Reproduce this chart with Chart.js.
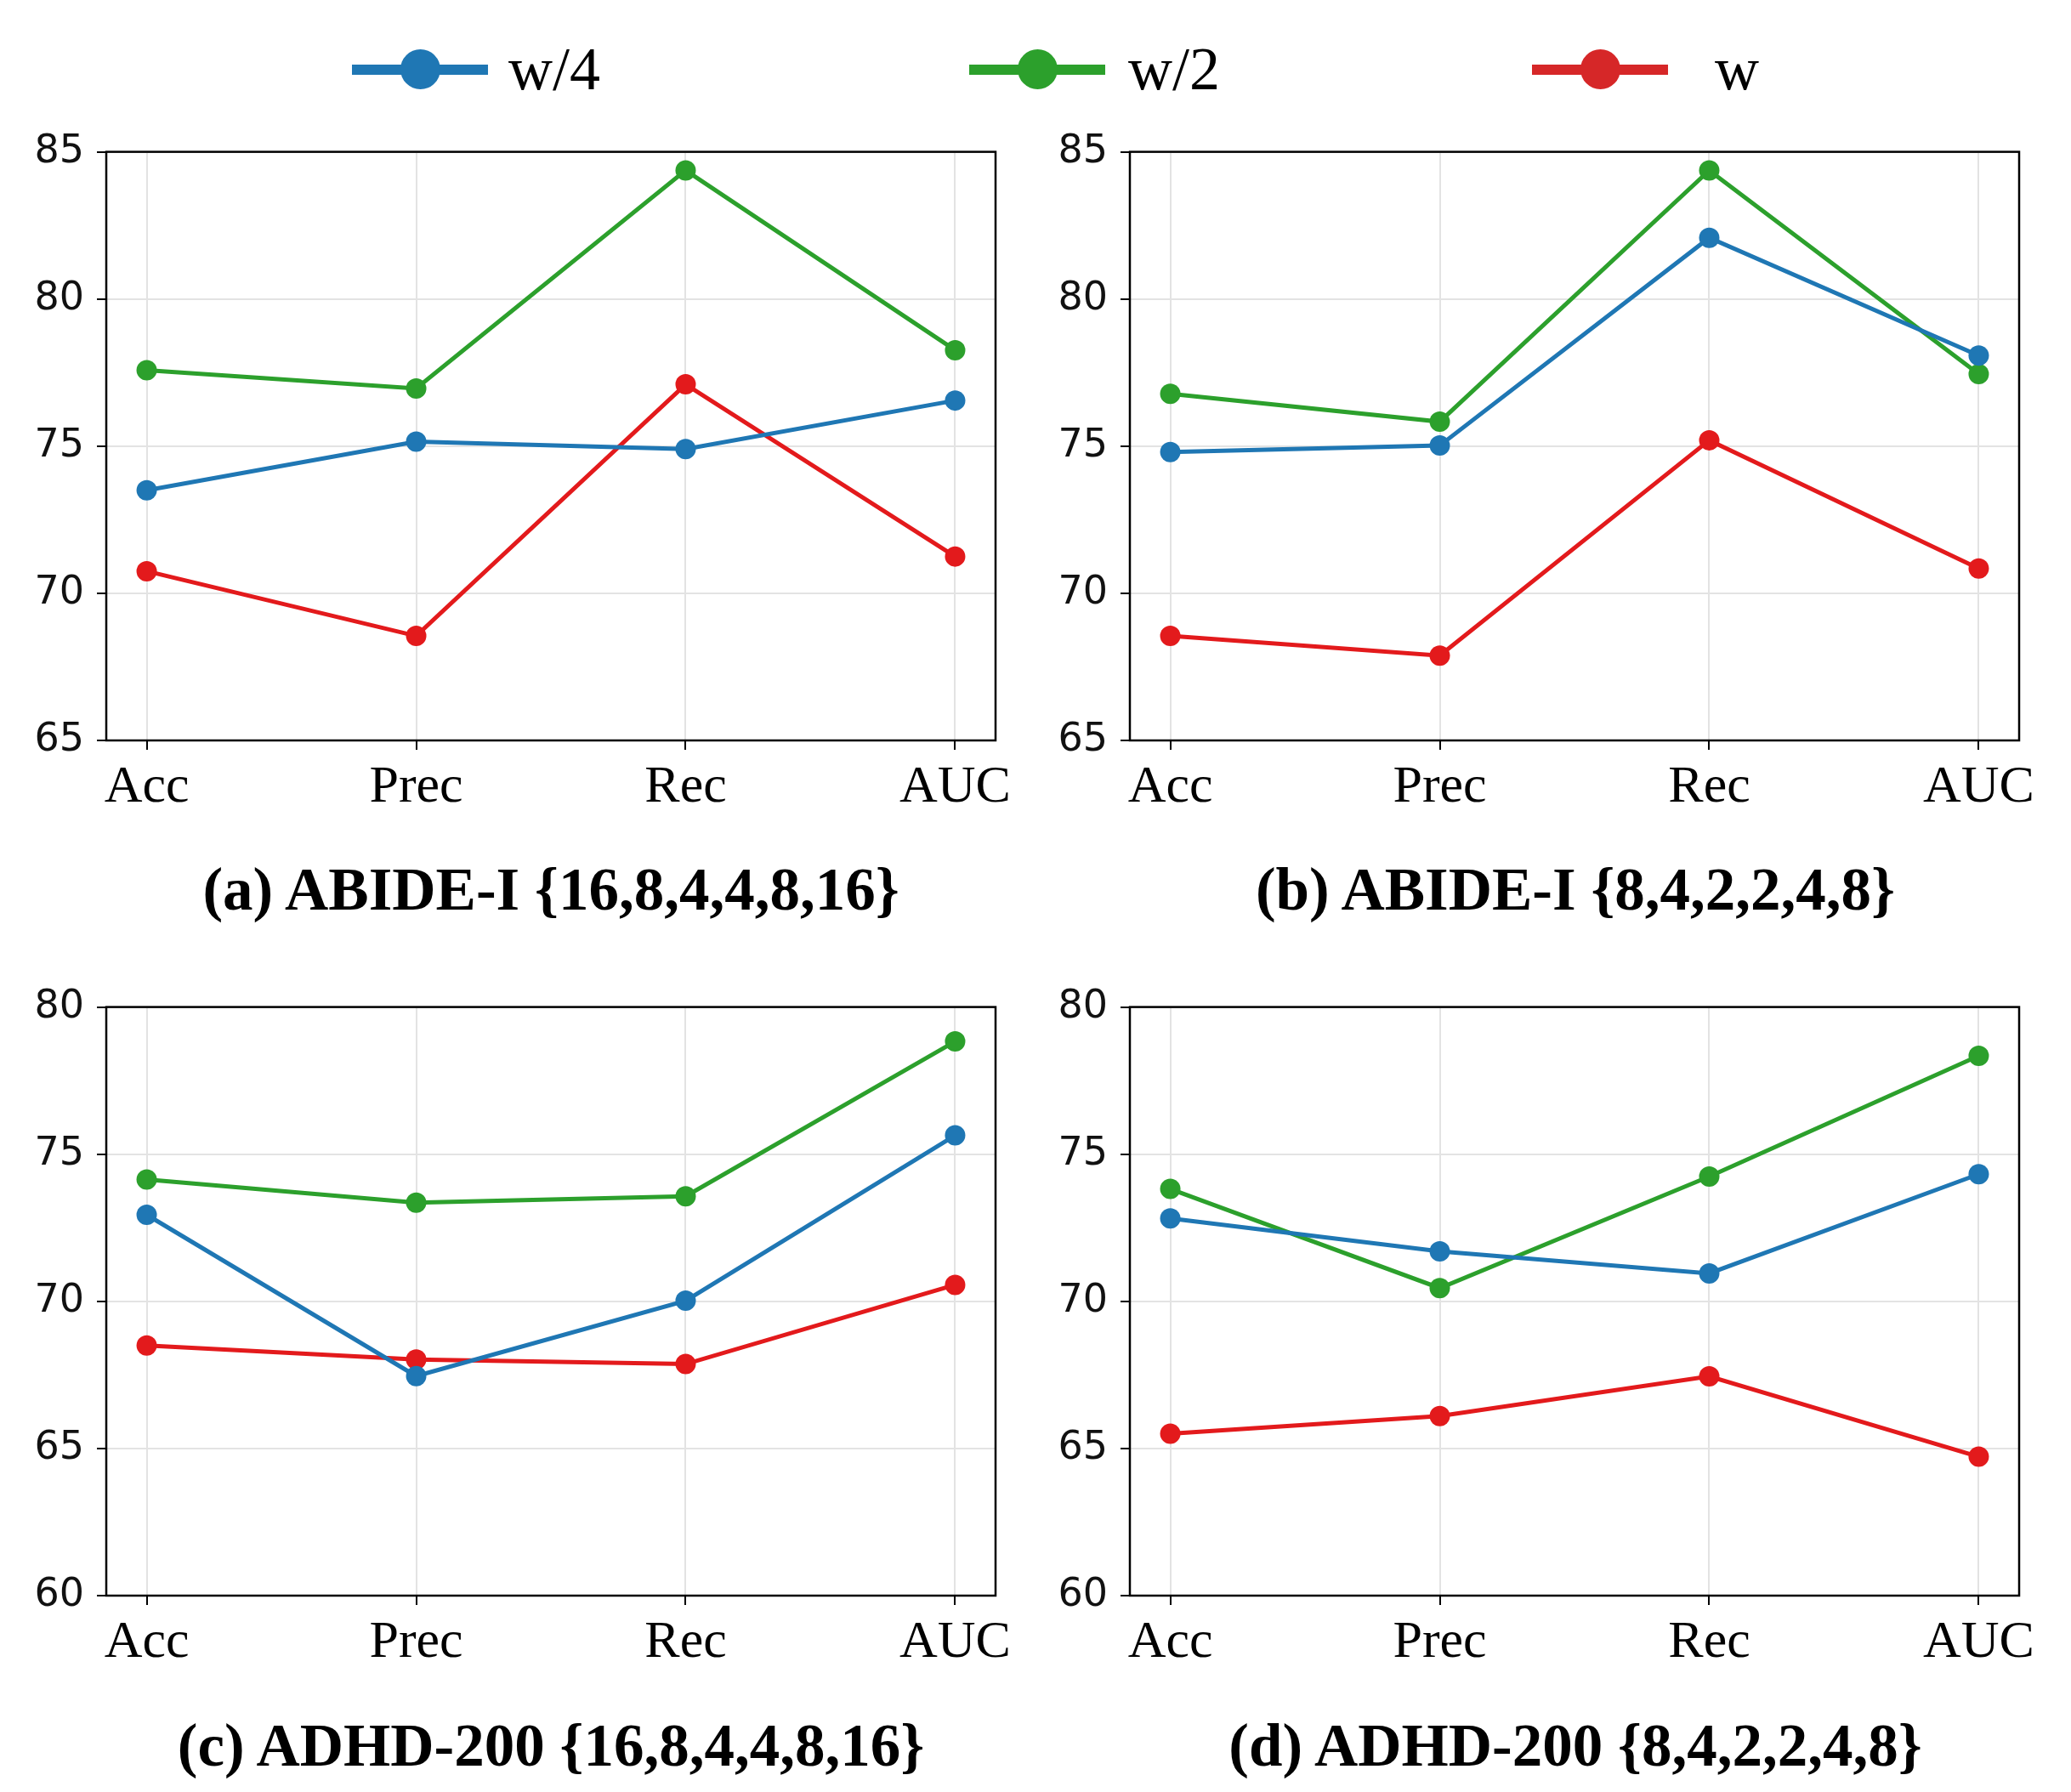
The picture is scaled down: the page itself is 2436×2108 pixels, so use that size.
<!DOCTYPE html>
<html>
<head>
<meta charset="utf-8">
<script src="https://cdn.jsdelivr.net/npm/chart.js@4.4.1/dist/chart.umd.min.js"></script>
<style>
    body { margin: 0; background: #fff; }
    #page { position: relative; width: 2436px; height: 2108px; background: #fff; overflow: hidden; }
    .panel { position: absolute; }
    .caption {
        position: absolute; width: 1200px; text-align: center;
        font-family: "Liberation Serif", serif; font-weight: bold;
        font-size: 71px; line-height: 72px; color: #000; white-space: nowrap;
    }
    .legend-item { position: absolute; top: 0; height: 160px; }
    .legend-line { position: absolute; top: 76px; height: 12px; width: 160px; }
    .legend-dot { position: absolute; top: 58px; width: 47px; height: 47px; border-radius: 50%; }
    .legend-text {
        position: absolute; top: 45px; font-family: "Liberation Serif", serif;
        font-size: 72px; line-height: 72px; color: #000; white-space: nowrap;
    }
</style>
</head>
<body>
<div id="page">
    <div id="legend"></div>
    <div class="panel" id="pa"><canvas id="chartA"></canvas></div>
    <div class="panel" id="pb"><canvas id="chartB"></canvas></div>
    <div class="panel" id="pc"><canvas id="chartC"></canvas></div>
    <div class="panel" id="pd"><canvas id="chartD"></canvas></div>
    <div class="caption" style="left:48px; top:1010px;">(a) ABIDE-I {16,8,4,4,8,16}</div>
    <div class="caption" style="left:1253px; top:1010px;">(b) ABIDE-I {8,4,2,2,4,8}</div>
    <div class="caption" style="left:48px; top:2017px;">(c) ADHD-200 {16,8,4,4,8,16}</div>
    <div class="caption" style="left:1253px; top:2017px;">(d) ADHD-200 {8,4,2,2,4,8}</div>
</div>
<script>
// metrics on the x axis
const categories = ['Acc', 'Prec', 'Rec', 'AUC'];
const seriesNames = ['w/4', 'w/2', 'w'];

// (a) ABIDE-I {16,8,4,4,8,16}
const abide16_w4 = [73.5, 75.15, 74.9, 76.55];
const abide16_w2 = [77.58, 76.96, 84.37, 78.26];
const abide16_w = [70.75, 68.55, 77.1, 71.25];

// (b) ABIDE-I {8,4,2,2,4,8}
const abide8_w4 = [74.8, 75.02, 82.08, 78.08];
const abide8_w2 = [76.78, 75.83, 84.37, 77.45];
const abide8_w = [68.55, 67.88, 75.2, 70.84];

// (c) ADHD-200 {16,8,4,4,8,16}
const adhd16_w4 = [72.94, 67.46, 70.02, 75.64];
const adhd16_w2 = [74.14, 73.35, 73.57, 78.83];
const adhd16_w = [68.5, 68.02, 67.87, 70.56];

// (d) ADHD-200 {8,4,2,2,4,8}
const adhd8_w4 = [72.82, 71.7, 70.95, 74.32];
const adhd8_w2 = [73.82, 70.45, 74.24, 78.34];
const adhd8_w = [65.5, 66.1, 67.45, 64.72];

const yTicksTop = [65, 70, 75, 80, 85];
const yTicksBottom = [60, 65, 70, 75, 80];

const lineColors = ['#1f77b4', '#2ca02c', '#e31a1c'];
const legendColors = ['#1f77b4', '#2ca02c', '#d62728'];

// plot area geometry (page pixels)
const AXIS_W = 125, PAD_TOP = 40, PAD_RIGHT = 60, XAXIS_H = 100;
const plotW = 1046, plotH = 695;

function buildLegend() {
    const items = [
        { left: 414, textLeft: 598 },
        { left: 1140, textLeft: 1327 },
        { left: 1802, textLeft: 2017 }
    ];
    const legend = document.getElementById('legend');
    items.forEach((it, i) => {
        const div = document.createElement('div');
        div.className = 'legend-item';
        div.innerHTML = `
            <div class="legend-line" style="left:${it.left}px; background:${legendColors[i]}"></div>
            <div class="legend-dot" style="left:${it.left + 80 - 23.5}px; background:${legendColors[i]}"></div>
            <div class="legend-text" style="left:${it.textLeft}px">${seriesNames[i]}</div>
        `;
        legend.appendChild(div);
    });
}

// black frame around the plot area, like matplotlib spines
const framePlugin = {
    id: 'frame',
    afterDraw(chart) {
        const { ctx, chartArea: a } = chart;
        ctx.save();
        ctx.strokeStyle = '#000';
        ctx.lineWidth = 2.5;
        ctx.strokeRect(a.left, a.top, a.right - a.left, a.bottom - a.top);
        ctx.restore();
    }
};

function makeChart(canvasId, panelId, plotLeft, plotTop, values, yTicks) {
    const panel = document.getElementById(panelId);
    const w = plotW + AXIS_W + PAD_RIGHT;
    const h = plotH + PAD_TOP + XAXIS_H;
    panel.style.left = (plotLeft - AXIS_W) + 'px';
    panel.style.top = (plotTop - PAD_TOP) + 'px';
    panel.style.width = w + 'px';
    panel.style.height = h + 'px';

    const datasets = values.map((vals, i) => ({
        label: seriesNames[i],
        data: vals.map((v, k) => ({ x: k, y: v })),
        borderColor: lineColors[i],
        backgroundColor: lineColors[i],
        borderWidth: 5,
        pointRadius: 12,
        pointHoverRadius: 12,
        pointBorderWidth: 0,
        tension: 0
    }));

    return new Chart(document.getElementById(canvasId), {
        type: 'line',
        data: { datasets },
        options: {
            responsive: false,
            animation: false,
            devicePixelRatio: 1,
            layout: { autoPadding: false, padding: { top: PAD_TOP, right: PAD_RIGHT, left: 0, bottom: 0 } },
            plugins: { legend: { display: false }, tooltip: { enabled: false } },
            scales: {
                x: {
                    type: 'linear',
                    min: -0.15,
                    max: 3.15,
                    afterBuildTicks: scale => {
                        scale.ticks = categories.map((c, k) => ({ value: k }));
                    },
                    afterFit: scale => { scale.height = XAXIS_H; },
                    ticks: {
                        callback: v => categories[v],
                        font: { family: 'Liberation Serif', size: 62 },
                        color: '#000',
                        padding: 8,
                        maxRotation: 0,
                        autoSkip: false
                    },
                    grid: { color: '#e3e3e3', lineWidth: 2, tickColor: '#000', tickLength: 11, tickWidth: 2 },
                    border: { display: false }
                },
                y: {
                    min: yTicks[0],
                    max: yTicks[yTicks.length - 1],
                    afterBuildTicks: scale => {
                        scale.ticks = yTicks.map(v => ({ value: v }));
                    },
                    afterFit: scale => { scale.width = AXIS_W; },
                    ticks: {
                        font: { family: 'DejaVu Sans', size: 46 },
                        color: '#111',
                        padding: 15
                    },
                    grid: { color: '#e3e3e3', lineWidth: 2, tickColor: '#000', tickLength: 11, tickWidth: 2 },
                    border: { display: false }
                }
            }
        },
        plugins: [framePlugin]
    });
}

function setCanvasSize(id) {
    const c = document.getElementById(id);
    c.width = plotW + AXIS_W + PAD_RIGHT;
    c.height = plotH + PAD_TOP + XAXIS_H;
    c.style.width = c.width + 'px';
    c.style.height = c.height + 'px';
}

buildLegend();
['chartA', 'chartB', 'chartC', 'chartD'].forEach(setCanvasSize);
makeChart('chartA', 'pa', 125, 176, [abide16_w4, abide16_w2, abide16_w], yTicksTop);
makeChart('chartB', 'pb', 1329, 176, [abide8_w4, abide8_w2, abide8_w], yTicksTop);
makeChart('chartC', 'pc', 125, 1182, [adhd16_w4, adhd16_w2, adhd16_w], yTicksBottom);
makeChart('chartD', 'pd', 1329, 1182, [adhd8_w4, adhd8_w2, adhd8_w], yTicksBottom);
</script>
</body>
</html>
